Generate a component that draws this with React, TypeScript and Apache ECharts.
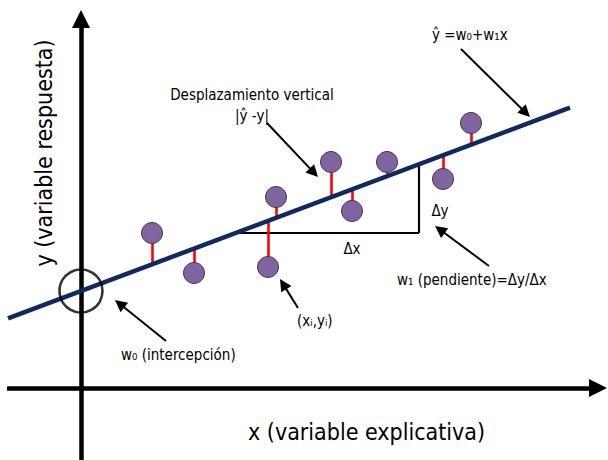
import React, { useEffect, useRef } from "react";
import * as echarts from "echarts";

// Regression model (data units: origin at the axes crossing)
const W0 = 9.7;
const W1 = 0.375;
const lineXRange = [-7.3, 48.9];

// Observations
const pointsX = [7.1, 11.3, 18.7, 19.5, 25.0, 27.1, 30.6, 36.2, 39.0];
const pointsY = [15.5, 11.5, 12.1, 19.1, 22.6, 17.7, 22.6, 20.9, 26.5];

// Slope triangle
const triangleBaseY = 15.5;
const triangleRightX = 33.8;

// Axes extents
const xAxisFrom = [-7.4, 0];
const xAxisTip = [52.6, 0];
const yAxisFrom = [0, -7.2];
const yAxisTip = [0, 37.8];

// Annotation arrows (tail -> tip)
const arrowTails = [
  [38.0, 33.9],
  [18.6, 26.5],
  [21.7, 8.0],
  [8.5, 4.7],
  [40.8, 12.2],
];
const arrowTips = [
  [44.9, 27.1],
  [23.7, 21.1],
  [19.9, 10.9],
  [3.4, 8.8],
  [35.4, 16.2],
];

const FONT = "'DejaVu Sans Condensed', 'DejaVu Sans', sans-serif";
const PX = 10; // pixels per data unit

function yhat(x: number) {
  return W0 + W1 * x;
}

function shorten(from: number[], to: number[], px: number) {
  const dx = to[0] - from[0];
  const dy = to[1] - from[1];
  const len = Math.sqrt(dx * dx + dy * dy);
  const d = px / PX;
  return [to[0] - (dx / len) * d, to[1] - (dy / len) * d];
}

function txt(
  text: string,
  x: number,
  y: number,
  size: number,
  align: string = "left",
  rotation: number = 0
) {
  return {
    type: "text",
    x,
    y,
    rotation,
    z: 100,
    style: {
      text,
      fill: "#000",
      font: `${size}px ${FONT}`,
      align,
      verticalAlign: "middle",
      textAlign: align,
      textVerticalAlign: "middle",
    },
  };
}

export default function App() {
  const ref = useRef<HTMLDivElement>(null);

  useEffect(() => {
    if (!ref.current) return;
    const chart = echarts.init(ref.current, undefined, { renderer: "svg" });

    const triStartX = (triangleBaseY - W0) / W1;
    const axisHead = 18;
    const arrowHead = 12;

    const option: any = {
      animation: false,
      backgroundColor: "#fff",
      grid: { left: 0, top: 0, width: 608, height: 460, containLabel: false },
      xAxis: { type: "value", min: -8.1, max: 52.7, show: false },
      yAxis: { type: "value", min: -7.2, max: 38.8, show: false },
      series: [
        {
          type: "lines",
          coordinateSystem: "cartesian2d",
          silent: true,
          z: 1,
          lineStyle: { color: "#000", width: 2.2, opacity: 1 },
          data: [
            { coords: [[triStartX, triangleBaseY], [triangleRightX, triangleBaseY]] },
            { coords: [[triangleRightX, triangleBaseY], [triangleRightX, yhat(triangleRightX)]] },
          ],
        },
        {
          type: "lines",
          coordinateSystem: "cartesian2d",
          silent: true,
          z: 2,
          lineStyle: { color: "#ff0000", width: 2.6, opacity: 1 },
          data: pointsX.map((x, i) => ({ coords: [[x, pointsY[i]], [x, yhat(x)]] })),
        },
        {
          type: "lines",
          coordinateSystem: "cartesian2d",
          silent: true,
          z: 3,
          symbol: ["none", "triangle"],
          symbolSize: axisHead,
          lineStyle: { color: "#000", width: 4.5, opacity: 1 },
          itemStyle: { color: "#000" },
          data: [
            { coords: [xAxisFrom, shorten(xAxisFrom, xAxisTip, axisHead / 2)] },
            { coords: [yAxisFrom, shorten(yAxisFrom, yAxisTip, axisHead / 2)] },
          ],
        },
        {
          type: "line",
          silent: true,
          z: 4,
          showSymbol: false,
          symbol: "none",
          lineStyle: { color: "#0f2a5f", width: 4.5 },
          data: lineXRange.map((x) => [x, yhat(x)]),
        },
        {
          type: "scatter",
          silent: true,
          z: 5,
          symbol: "circle",
          symbolSize: 43,
          itemStyle: { color: "rgba(0,0,0,0)", borderColor: "#000", borderWidth: 2.6 },
          data: [[0, W0]],
        },
        {
          type: "scatter",
          silent: true,
          z: 6,
          symbol: "circle",
          symbolSize: 21,
          itemStyle: { color: "#8064a2", borderColor: "#3d3d3d", borderWidth: 1, opacity: 1 },
          data: pointsX.map((x, i) => [x, pointsY[i]]),
        },
        {
          type: "lines",
          coordinateSystem: "cartesian2d",
          silent: true,
          z: 7,
          symbol: ["none", "triangle"],
          symbolSize: arrowHead,
          lineStyle: { color: "#000", width: 2, opacity: 1 },
          itemStyle: { color: "#000" },
          data: arrowTails.map((t, i) => ({
            coords: [t, shorten(t, arrowTips[i], arrowHead / 2)],
          })),
        },
      ],
      graphic: [
        txt("ŷ =w₀+w₁x", 432, 35, 15),
        txt("Desplazamiento vertical", 252, 95, 15, "center"),
        txt("|ŷ -y|", 252, 116, 15, "center"),
        txt("Δx", 352, 249, 15, "center"),
        txt("Δy", 440, 211, 15, "center"),
        txt("w₁ (pendiente)=Δy/Δx", 397, 280, 15),
        txt("(xᵢ,yᵢ)", 297, 321, 15),
        txt("w₀ (intercepción)", 121, 355, 15),
        txt("x (variable explicativa)", 248, 432, 23),
        txt("y (variable respuesta)", 44, 153, 23, "center", Math.PI / 2),
      ],
    };

    chart.setOption(option);
    return () => {
      chart.dispose();
    };
  }, []);

  return (
    <div
      ref={ref}
      style={{ position: "absolute", left: 0, top: 0, width: 608, height: 460 }}
    />
  );
}
